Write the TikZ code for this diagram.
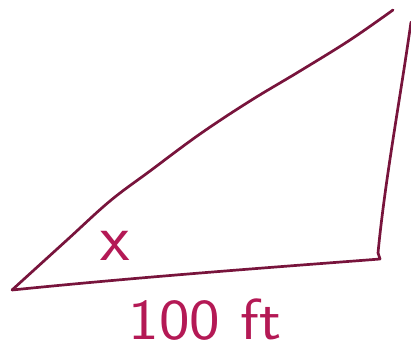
\documentclass[tikz,border=0pt]{standalone}
\usepackage{tikz}
\usetikzlibrary{positioning, calc}

\definecolor{penline}{RGB}{120,20,60}
\definecolor{penink}{RGB}{180,25,85}

\begin{document}
\begin{tikzpicture}[
    x=1pt, y=-1pt,
    side/.style={draw=penline, line width=2.7pt, line cap=round, line join=round},
    lbl/.style={text=penink, font=\sffamily, inner sep=0pt}
]
    \useasboundingbox (0,0) rectangle (411,351);

    % Corners
    \coordinate (left) at (12,290);
    \coordinate (corner) at (380,259);
    \coordinate (top) at (393,10);
    \coordinate (rtop) at (411,22);

    % Sides
    \draw[side] plot[smooth, tension=0.6] coordinates {(left) (67,240) (110,201) (150,171) (200,134) (250,101) (300,71) (350,40) (top)};
    \draw[side] (left) .. controls (150,276) and (290,266) .. (corner) -- (378,253);
    \draw[side] (378,253) .. controls (385,180) and (400,100) .. (rtop);

    % Labels
    \node[lbl, font=\sffamily\fontsize{68}{72}\selectfont] (angle) at (115,246) {x};
    \node[lbl, font=\sffamily\fontsize{58}{62}\selectfont, xscale=1.12] (base) at (205,320) {100 ft};
\end{tikzpicture}
\end{document}
